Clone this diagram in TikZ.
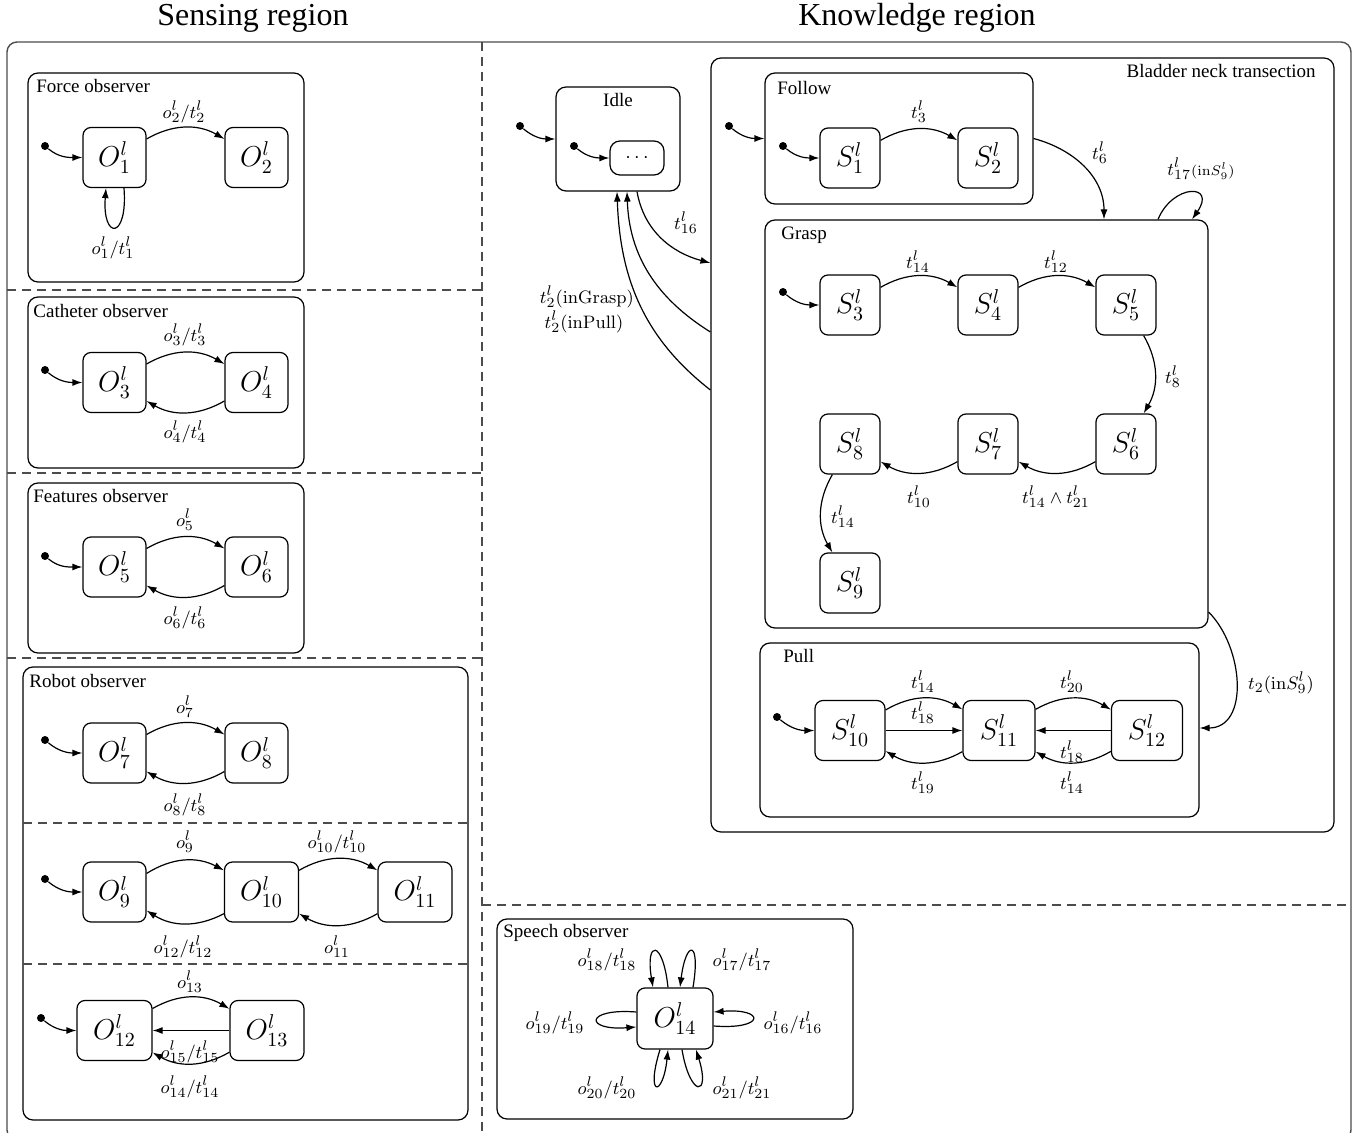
\documentclass[tikz,border=0pt]{standalone}
\usepackage[no-math]{fontspec}
\setmainfont{Liberation Serif}
\usetikzlibrary{arrows.meta,fit}
\begin{document}
\begin{tikzpicture}[x=0.5pt,y=0.5pt,
 stt/.style={draw,line width=0.6pt,rounded corners=4pt,minimum width=31.5pt,minimum height=30pt,inner sep=0pt,font=\fontsize{14}{16}\selectfont},
 cont/.style={draw,line width=0.6pt,rounded corners=5pt,inner sep=0pt},
 ctitle/.style={anchor=base west,inner sep=0pt,font=\fontsize{9.5}{11}\selectfont},
 lbl/.style={inner sep=0pt,font=\fontsize{9.5}{11}\selectfont},
 tr/.style={-{Latex[length=5pt,width=3.5pt]},line width=0.6pt},
 idot/.style={circle,fill,inner sep=0pt,minimum size=4pt},
 sep/.style={draw=black!70,line width=0.6pt,dash pattern=on 4.5pt off 3pt},
 frame/.style={draw=black!70,line width=0.7pt,rounded corners=5pt}
]
\useasboundingbox (0,0) rectangle (1362,-1133);

% titles
\node[font=\fontsize{16}{18}\selectfont] (tsens) at (253,-18) {Sensing region};
\node[font=\fontsize{16}{18}\selectfont] (tknow) at (917,-18) {Knowledge region};

% frame and separators
\draw[frame] (7,-1140) rectangle (1351,-42);
\draw[sep] (482,-42) -- (482,-1133);
\draw[sep] (7,-290) -- (482,-290);
\draw[sep] (7,-473) -- (482,-473);
\draw[sep] (7,-658) -- (482,-658);
\draw[sep] (482,-905) -- (1351,-905);

% ---------------- Force observer
\node[cont,fit={(28,-73)(304,-282)}] (force) {};
\node[ctitle] (tforce) at (36,-93) {Force observer};
\node[stt] (O1) at (114.5,-157.5) {$O^l_1$};
\node[stt] (O2) at (256.5,-157.5) {$O^l_2$};
\node[idot] (i1) at (45,-146) {};
\draw[tr] (i1) to[out=-40,in=180] (O1.west);
\draw[tr] (O1) to[bend left=30] (O2);
\draw[tr] ([xshift=4.75pt]O1.south) .. controls +(4,-52) and +(-4,-52) .. ([xshift=-4.25pt]O1.south);
\node[lbl] (l1) at (184,-112) {$o^l_2/t^l_2$};
\node[lbl] (l2) at (113,-248) {$o^l_1/t^l_1$};

% ---------------- Catheter observer
\node[cont,fit={(28,-297)(304,-468)}] (cath) {};
\node[ctitle] (tcath) at (33,-318) {Catheter observer};
\node[stt] (O3) at (114.5,-382.5) {$O^l_3$};
\node[stt] (O4) at (256.5,-382.5) {$O^l_4$};
\node[idot] (i3) at (45,-370) {};
\draw[tr] (i3) to[out=-40,in=180] (O3.west);
\draw[tr] (O3) to[bend left=30] (O4);
\draw[tr] (O4) to[bend left=30] (O3);
\node[lbl] (l3) at (185,-335) {$o^l_3/t^l_3$};
\node[lbl] (l4) at (185,-432) {$o^l_4/t^l_4$};

% ---------------- Features observer
\node[cont,fit={(28,-483)(304,-653)}] (feat) {};
\node[ctitle] (tfeat) at (33,-503) {Features observer};
\node[stt] (O5) at (114.5,-567) {$O^l_5$};
\node[stt] (O6) at (256.5,-567) {$O^l_6$};
\node[idot] (i5) at (45,-556) {};
\draw[tr] (i5) to[out=-40,in=180] (O5.west);
\draw[tr] (O5) to[bend left=30] (O6);
\draw[tr] (O6) to[bend left=30] (O5);
\node[lbl] (l5) at (185,-520) {$o^l_5$};
\node[lbl] (l6) at (185,-618) {$o^l_6/t^l_6$};

% ---------------- Robot observer
\node[cont,fit={(23,-667)(468,-1120)}] (robot) {};
\node[ctitle] (trobot) at (29,-688) {Robot observer};
\draw[sep] (23,-823) -- (468,-823);
\draw[sep] (23,-964) -- (468,-964);
\node[stt] (O7) at (114.5,-753) {$O^l_7$};
\node[stt] (O8) at (256.5,-753) {$O^l_8$};
\node[idot] (i7) at (45,-740) {};
\draw[tr] (i7) to[out=-40,in=180] (O7.west);
\draw[tr] (O7) to[bend left=30] (O8);
\draw[tr] (O8) to[bend left=30] (O7);
\node[lbl] (l7) at (185,-707) {$o^l_7$};
\node[lbl] (l8) at (185,-805) {$o^l_8/t^l_8$};

\node[stt] (O9) at (114.5,-892) {$O^l_9$};
\node[stt,minimum width=37pt] (O10) at (261.5,-892) {$O^l_{10}$};
\node[stt,minimum width=37pt] (O11) at (415,-892) {$O^l_{11}$};
\node[idot] (i9) at (45,-879) {};
\draw[tr] (i9) to[out=-40,in=180] (O9.west);
\draw[tr] (O9) to[bend left=30] (O10);
\draw[tr] (O10) to[bend left=30] (O9);
\draw[tr] (O10) to[bend left=30] (O11);
\draw[tr] (O11) to[bend left=30] (O10);
\node[lbl] (l9) at (185,-842) {$o^l_9$};
\node[lbl] (l10) at (337,-842) {$o^l_{10}/t^l_{10}$};
\node[lbl] (l12) at (183,-947) {$o^l_{12}/t^l_{12}$};
\node[lbl] (l11) at (337,-947) {$o^l_{11}$};

\node[stt,minimum width=37.5pt] (O12) at (114.5,-1030.5) {$O^l_{12}$};
\node[stt,minimum width=37pt] (O13) at (267,-1030.5) {$O^l_{13}$};
\node[idot] (i12) at (41,-1018) {};
\draw[tr] (i12) to[out=-40,in=180] (O12.west);
\draw[tr] (O12) to[bend left=30] (O13);
\draw[tr] (O13) -- (O12);
\draw[tr] (O13) to[bend left=30] (O12);
\node[lbl] (l13) at (190,-982) {$o^l_{13}$};
\node[lbl] (l15) at (190,-1052) {$o^l_{15}/t^l_{15}$};
\node[lbl] (l14) at (190,-1087) {$o^l_{14}/t^l_{14}$};

% ---------------- Speech observer
\node[cont,fit={(497,-919)(853,-1119)}] (speech) {};
\node[ctitle] (tspeech) at (503,-938) {Speech observer};
\node[stt,minimum width=38pt,minimum height=30.5pt] (O14) at (675,-1018.5) {$O^l_{14}$};
\draw[tr] ([xshift=-3.5pt]O14.north) .. controls +(-5,48) and +(-8,48) .. ([xshift=-11pt]O14.north);
\draw[tr] ([xshift=9pt]O14.north) .. controls +(8,48) and +(6,48) .. ([xshift=2.5pt]O14.north);
\draw[tr] ([yshift=3.25pt]O14.west) .. controls +(-52,4) and +(-52,-4) .. ([yshift=-4.25pt]O14.west);
\draw[tr] ([yshift=-3.75pt]O14.east) .. controls +(52,-4) and +(52,4) .. ([yshift=3.25pt]O14.east);
\draw[tr] ([xshift=-7.5pt]O14.south) .. controls +(-15,-48) and +(-5,-48) .. ([xshift=-3.5pt]O14.south);
\draw[tr] ([xshift=3.5pt]O14.south) .. controls +(8,-48) and +(15,-48) .. ([xshift=10.5pt]O14.south);
\node[lbl] (l18) at (607,-960) {$o^l_{18}/t^l_{18}$};
\node[lbl] (l17) at (742,-960) {$o^l_{17}/t^l_{17}$};
\node[lbl] (l19) at (555,-1023) {$o^l_{19}/t^l_{19}$};
\node[lbl] (l16) at (793,-1023) {$o^l_{16}/t^l_{16}$};
\node[lbl] (l20) at (607,-1088) {$o^l_{20}/t^l_{20}$};
\node[lbl] (l21) at (742,-1088) {$o^l_{21}/t^l_{21}$};

% ---------------- Idle
\node[cont,fit={(556,-87)(680,-191)}] (idle) {};
\node[anchor=base,inner sep=0pt,font=\fontsize{9.5}{11}\selectfont] (tidle) at (618,-107) {Idle};
\node[draw,line width=0.6pt,rounded corners=5pt,minimum width=27pt,minimum height=17pt,inner sep=0pt,font=\fontsize{10}{12}\selectfont] (dots) at (637,-158) {$\cdots$};
\node[idot] (iidle) at (520,-126) {};
\draw[tr] (iidle) to[out=-40,in=180] (idle.west);
\node[idot] (idots) at (574,-146) {};
\draw[tr] (idots) to[out=-40,in=180] (dots.west);

% ---------------- Bladder neck transection
\node[cont,fit={(711,-58)(1334,-832)}] (bnt) {};
\node[anchor=base east,inner sep=0pt,font=\fontsize{9.5}{11}\selectfont] (tbnt) at (1316,-78) {Bladder neck transection};
\draw[tr] ([xshift=9.5pt]idle.south) to[out=-80,in=165] ([yshift=91pt]bnt.west);
\draw[tr] ([yshift=56.5pt]bnt.west) to[out=148,in=-88] ([xshift=4.5pt]idle.south);
\draw[tr] ([yshift=27.5pt]bnt.west) to[out=142,in=-88] ([xshift=-0.5pt]idle.south);
\node[lbl] (l16k) at (686,-223) {$t^l_{16}$};
\node[lbl] (l2g) at (587,-297) {$t^l_2(\mathrm{inGrasp})$};
\node[lbl] (l2p) at (584,-322) {$t^l_2(\mathrm{inPull})$};

% Follow
\node[cont,fit={(765,-73)(1033,-204)}] (follow) {};
\node[ctitle] (tfollow) at (777,-95) {Follow};
\node[idot] (ifol) at (729,-126) {};
\draw[tr] (ifol) to[out=-40,in=180] (follow.west);
\node[stt,minimum width=30pt] (S1) at (850,-158) {$S^l_1$};
\node[stt,minimum width=30pt] (S2) at (988,-158) {$S^l_2$};
\node[idot] (is1) at (783,-146) {};
\draw[tr] (is1) to[out=-40,in=180] (S1.west);
\draw[tr] (S1) to[bend left=30] (S2);
\node[lbl] (lt3) at (919,-112) {$t^l_3$};

% Grasp
\node[cont,fit={(765,-220)(1208,-628)}] (grasp) {};
\node[ctitle] (tgrasp) at (781,-240) {Grasp};
\draw[tr] (follow.east) to[out=-15,in=90] ([xshift=58.75pt]grasp.north);
\node[lbl] (lt6) at (1100,-153) {$t^l_6$};
\draw[tr] ([xshift=85.75pt]grasp.north) .. controls +(15,36) and +(25,36) .. ([xshift=102.75pt]grasp.north);
\node[lbl] (lt17) at (1201,-169) {$t^l_{17}{\scriptstyle(\mathrm{in}S^l_9)}$};
\node[stt,minimum width=30pt] (S3) at (850,-305) {$S^l_3$};
\node[stt,minimum width=30pt] (S4) at (988,-305) {$S^l_4$};
\node[stt,minimum width=30pt] (S5) at (1126,-305) {$S^l_5$};
\node[stt,minimum width=30pt] (S6) at (1126,-444) {$S^l_6$};
\node[stt,minimum width=30pt] (S7) at (988,-444) {$S^l_7$};
\node[stt,minimum width=30pt] (S8) at (850,-444) {$S^l_8$};
\node[stt,minimum width=30pt] (S9) at (850,-583) {$S^l_9$};
\node[idot] (is3) at (783,-292) {};
\draw[tr] (is3) to[out=-40,in=180] (S3.west);
\draw[tr] (S3) to[bend left=30] (S4);
\draw[tr] (S4) to[bend left=30] (S5);
\draw[tr] (S5) to[bend left=30] (S6);
\draw[tr] (S6) to[bend left=30] (S7);
\draw[tr] (S7) to[bend left=30] (S8);
\draw[tr] (S8) to[bend right=30] (S9);
\node[lbl] (lt14a) at (918,-262) {$t^l_{14}$};
\node[lbl] (lt12) at (1056,-262) {$t^l_{12}$};
\node[lbl] (lt8) at (1173,-377) {$t^l_8$};
\node[lbl] (lt10) at (919,-497) {$t^l_{10}$};
\node[lbl] (lt1421) at (1056,-497) {$t^l_{14}\wedge t^l_{21}$};
\node[lbl] (lt14b) at (843,-517) {$t^l_{14}$};

% Pull
\node[cont,fit={(760,-643)(1199,-817)}] (pull) {};
\node[ctitle] (tpull) at (783,-663) {Pull};
\draw[tr] ([yshift=-94pt]grasp.east) to[out=-45,in=0,looseness=1.1] ([yshift=1pt]pull.east);
\node[lbl] (lt2s9) at (1281,-683) {$t_2(\mathrm{in}S^l_9)$};
\node[stt,minimum width=35pt] (S10) at (850,-730.5) {$S^l_{10}$};
\node[stt,minimum width=36pt] (S11) at (999,-730.5) {$S^l_{11}$};
\node[stt,minimum width=35.5pt] (S12) at (1147,-730.5) {$S^l_{12}$};
\node[idot] (is10) at (777,-717) {};
\draw[tr] (is10) to[out=-40,in=180] (S10.west);
\draw[tr] (S10) to[bend left=30] (S11);
\draw[tr] (S10) -- (S11);
\draw[tr] (S11) to[bend left=30] (S10);
\draw[tr] (S11) to[bend left=30] (S12);
\draw[tr] (S12) -- (S11);
\draw[tr] (S12) to[bend left=30] (S11);
\node[lbl] (lp1) at (923,-682) {$t^l_{14}$};
\node[lbl] (lp2) at (923,-713) {$t^l_{18}$};
\node[lbl] (lp3) at (923,-783) {$t^l_{19}$};
\node[lbl] (lp4) at (1072,-682) {$t^l_{20}$};
\node[lbl] (lp5) at (1072,-752) {$t^l_{18}$};
\node[lbl] (lp6) at (1072,-783) {$t^l_{14}$};
\end{tikzpicture}
\end{document}
